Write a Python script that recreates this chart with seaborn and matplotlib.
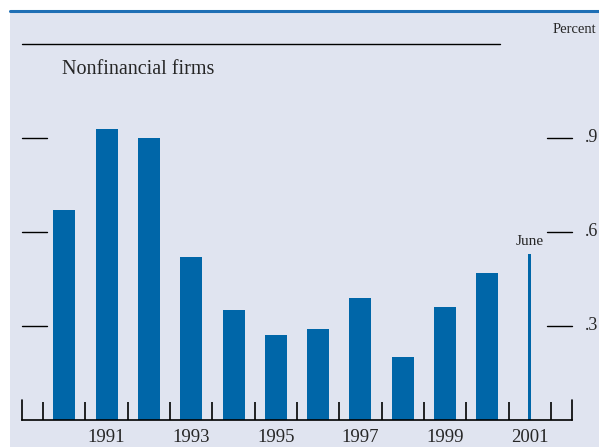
import matplotlib
matplotlib.use("Agg")
import matplotlib.pyplot as plt
import pandas as pd
import seaborn as sns
from matplotlib.patches import Rectangle

years = [1990, 1991, 1992, 1993, 1994, 1995, 1996, 1997, 1998, 1999, 2000]
values = [0.67, 0.93, 0.90, 0.52, 0.35, 0.27, 0.29, 0.39, 0.20, 0.36, 0.47]
june_year = [2001]
june_value = [0.53]
year_labels = ["1991", "1993", "1995", "1997", "1999", "2001"]
y_ticks = [0.3, 0.6, 0.9]
y_labels = [".3", ".6", ".9"]

bg = "#e0e4f0"
bar_color = "#0066a8"

sns.set_style("white")
plt.rcParams["font.family"] = ["Liberation Serif", "DejaVu Serif"]

fig = plt.figure(figsize=(5.99, 4.47), dpi=100)
fig.patch.set_facecolor("white")
fig.patches.append(Rectangle((10 / 599, 0), 1, (447 - 12) / 447, transform=fig.transFigure,
                             facecolor=bg, edgecolor="none", zorder=-5))
fig.lines.append(plt.Line2D([10 / 599, 1], [(447 - 11) / 447] * 2, transform=fig.transFigure,
                            color="#1f6fb5", lw=2.2, zorder=-4))

ax = fig.add_axes([22 / 599, 27 / 447, 550 / 599, (420 - 44) / 447])
ax.set_facecolor("none")

df = pd.DataFrame({"year": years, "value": values})
sns.barplot(data=df, x="year", y="value", native_scale=True, width=0.52,
            color=bar_color, saturation=1, ax=ax, edgecolor="none")
dj = pd.DataFrame({"year": june_year, "value": june_value})
sns.barplot(data=dj, x="year", y="value", native_scale=True, width=0.08,
            color=bar_color, saturation=1, ax=ax, edgecolor="none")

ax.set_xlim(1989, 2002)
ax.set_ylim(0, 1.2)
for s in ["top", "right", "left"]:
    ax.spines[s].set_visible(False)
ax.spines["bottom"].set_color("black")
ax.spines["bottom"].set_linewidth(1.2)

# year boundary ticks
ax.set_xticks([y + 0.5 for y in range(1989, 2002)])
ax.set_xticklabels([])
ax.tick_params(axis="x", bottom=True, direction="in", length=13, width=1.2, color="black")
for lbl in year_labels:
    ax.text(int(lbl), -0.03, lbl, ha="center", va="top", fontsize=13.5)
for xe in [1989, 2002]:
    ax.plot([xe, xe], [0, 0.065], color="black", lw=1.2, clip_on=False)

ax.set_yticks([])
ax.set_xlabel("")
ax.set_ylabel("")
for t, l in zip(y_ticks, y_labels):
    ax.plot([1989, 1989.6], [t, t], color="black", lw=1, clip_on=False)
    ax.plot([2001.4, 2002], [t, t], color="black", lw=1, clip_on=False)
    ax.text(2002.3, t, l, ha="left", va="center", fontsize=13)

ax.plot([1989, 2000.3], [1.2, 1.2], color="black", lw=1, clip_on=False)
ax.text(2001.55, 1.247, "Percent", ha="left", va="center", fontsize=10.5)
ax.text(2001, 0.55, "June", ha="center", va="bottom", fontsize=11)
ax.text(1989.95, 1.12, "Nonfinancial firms", ha="left", va="center", fontsize=14.5)

fig.savefig("out.png", dpi=100)
